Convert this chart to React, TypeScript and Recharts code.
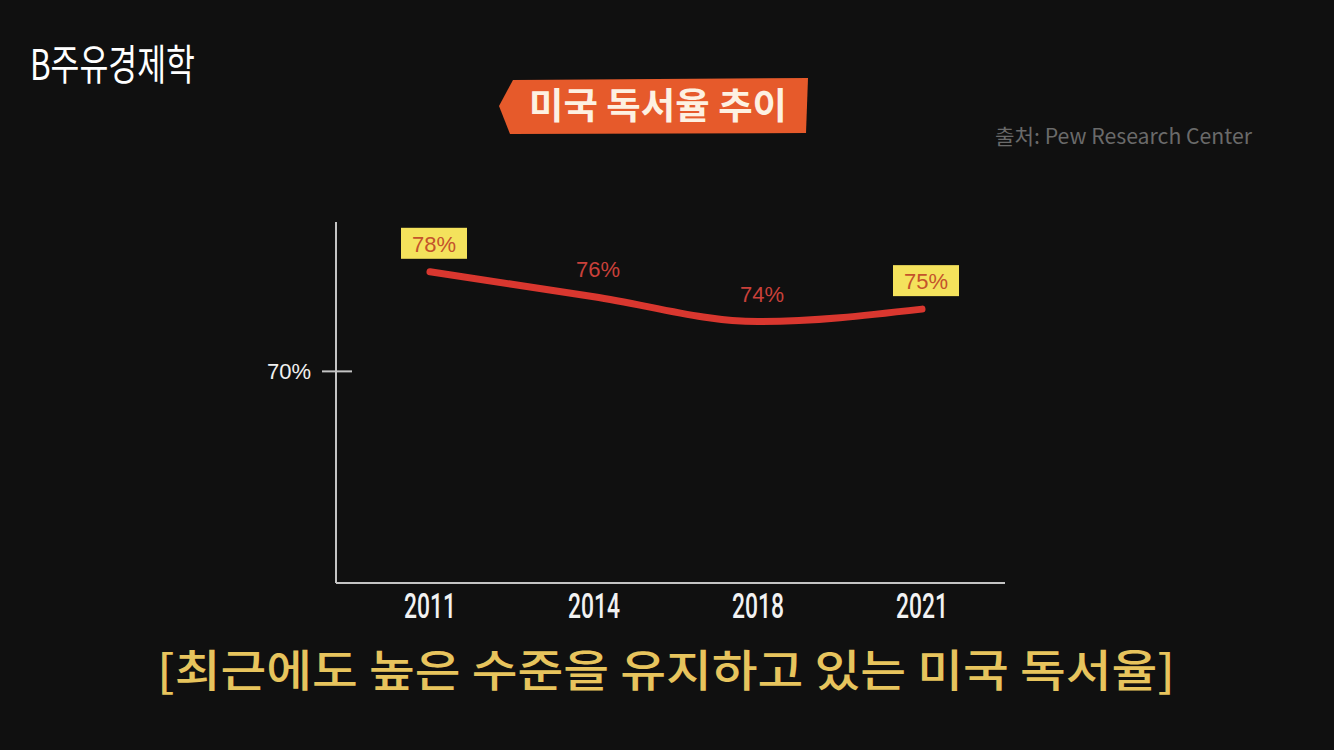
import React from 'react';
import { LineChart, Line, XAxis, YAxis, LabelList } from 'recharts';

const years = ['2011', '2014', '2018', '2021'];
const readingRates = [78, 76, 74, 75];
const boxedLabels = [true, false, false, true];
const yTicks = [70];
const yDomain = [53, 82];

const data = years.map((year, i) => ({ year, rate: readingRates[i], boxed: boxedLabels[i] }));

const W = 1334;
const H = 750;
const PLOT_LEFT = 336;
const LABEL_FONT = "'Liberation Sans', Arimo, Arial, sans-serif";

const XTick = (props: any) => {
  const { x, y, payload } = props;
  return (
    <text
      x={x}
      y={y + 27}
      textAnchor="middle"
      fill="#f2f2f2"
      fontFamily="Roboto, 'Noto Sans', sans-serif"
      fontWeight={500}
      fontSize={35}
      textLength={52}
      lengthAdjust="spacingAndGlyphs"
    >
      {payload.value}
    </text>
  );
};

const YTick = (props: any) => {
  const { y, payload } = props;
  return (
    <g>
      <line x1={PLOT_LEFT - 14} x2={PLOT_LEFT + 16} y1={y} y2={y} stroke="#c4c4c4" strokeWidth={2} />
      <text
        x={PLOT_LEFT - 25}
        y={y + 8}
        textAnchor="end"
        fill="#f0f0f0"
        fontFamily={LABEL_FONT}
        fontSize={22}
      >
        {payload.value}%
      </text>
    </g>
  );
};

const RateLabel = (props: any) => {
  const { x, y, value, index } = props;
  const boxed = data[index]?.boxed;
  const cx = x + 4;
  const cy = y - 28;
  if (boxed) {
    return (
      <g>
        <rect x={cx - 33} y={cy - 16} width={66} height={31} fill="#f4e25c" />
        <text
          x={cx}
          y={cy + 8}
          textAnchor="middle"
          fill="#c4532b"
          fontFamily={LABEL_FONT}
          fontSize={22}
        >
          {value}%
        </text>
      </g>
    );
  }
  return (
    <text
      x={cx}
      y={cy + 8}
      textAnchor="middle"
      fill="#c9403a"
      fontFamily={LABEL_FONT}
      fontSize={22}
    >
      {value}%
    </text>
  );
};

export default function App() {
  return (
    <div
      style={{
        position: 'absolute',
        left: 0,
        top: 0,
        width: W,
        height: H,
        background: '#101010',
        overflow: 'hidden',
      }}
    >
      <svg width={W} height={H} style={{ position: 'absolute', left: 0, top: 0 }}>
        <text
          x={30}
          y={80}
          fill="#ffffff"
          fontFamily="'Noto Sans CJK KR', sans-serif"
          fontWeight={400}
          fontSize={42}
          textLength={165}
          lengthAdjust="spacingAndGlyphs"
        >
          B주유경제학
        </text>
        <polygon points="513,80 808,78 806,133 510,134 499,106" fill="#e65a2b" />
        <text
          x={658}
          y={119}
          textAnchor="middle"
          fill="#fdf1e2"
          fontFamily="'Noto Sans CJK KR', sans-serif"
          fontWeight={700}
          fontSize={36}
          textLength={258}
          lengthAdjust="spacingAndGlyphs"
        >
          미국 독서율 추이
        </text>
        <text
          x={995}
          y={144}
          fill="#6a6a6a"
          fontFamily="'Noto Sans CJK KR', sans-serif"
          fontWeight={400}
          fontSize={21}
          textLength={257}
          lengthAdjust="spacingAndGlyphs"
        >
          출처: Pew Research Center
        </text>
        <text
          x={157}
          y={687}
          fill="#e7c45d"
          fontFamily="'Noto Sans CJK KR', sans-serif"
          fontWeight={500}
          fontSize={44}
          textLength={1018}
          lengthAdjust="spacingAndGlyphs"
        >
          [최근에도 높은 수준을 유지하고 있는 미국 독서율]
        </text>
      </svg>
      <div style={{ position: 'absolute', left: 0, top: 0 }}>
        <LineChart
          width={W}
          height={H}
          data={data}
          margin={{ top: 222, left: PLOT_LEFT - 1, right: 329, bottom: 137 }}
        >
          <XAxis
            dataKey="year"
            padding={{ left: 94, right: 83 }}
            axisLine={{ stroke: '#c4c4c4', strokeWidth: 2 }}
            tickLine={false}
            tick={<XTick />}
            height={30}
            interval={0}
          />
          <YAxis
            width={1}
            domain={yDomain}
            ticks={yTicks}
            axisLine={{ stroke: '#c4c4c4', strokeWidth: 2 }}
            tickLine={false}
            tick={<YTick />}
          />
          <Line
            type="monotone"
            dataKey="rate"
            stroke="#d9372f"
            strokeWidth={7}
            strokeLinecap="round"
            dot={false}
            isAnimationActive={false}
          >
            <LabelList dataKey="rate" content={<RateLabel />} />
          </Line>
        </LineChart>
      </div>
    </div>
  );
}
